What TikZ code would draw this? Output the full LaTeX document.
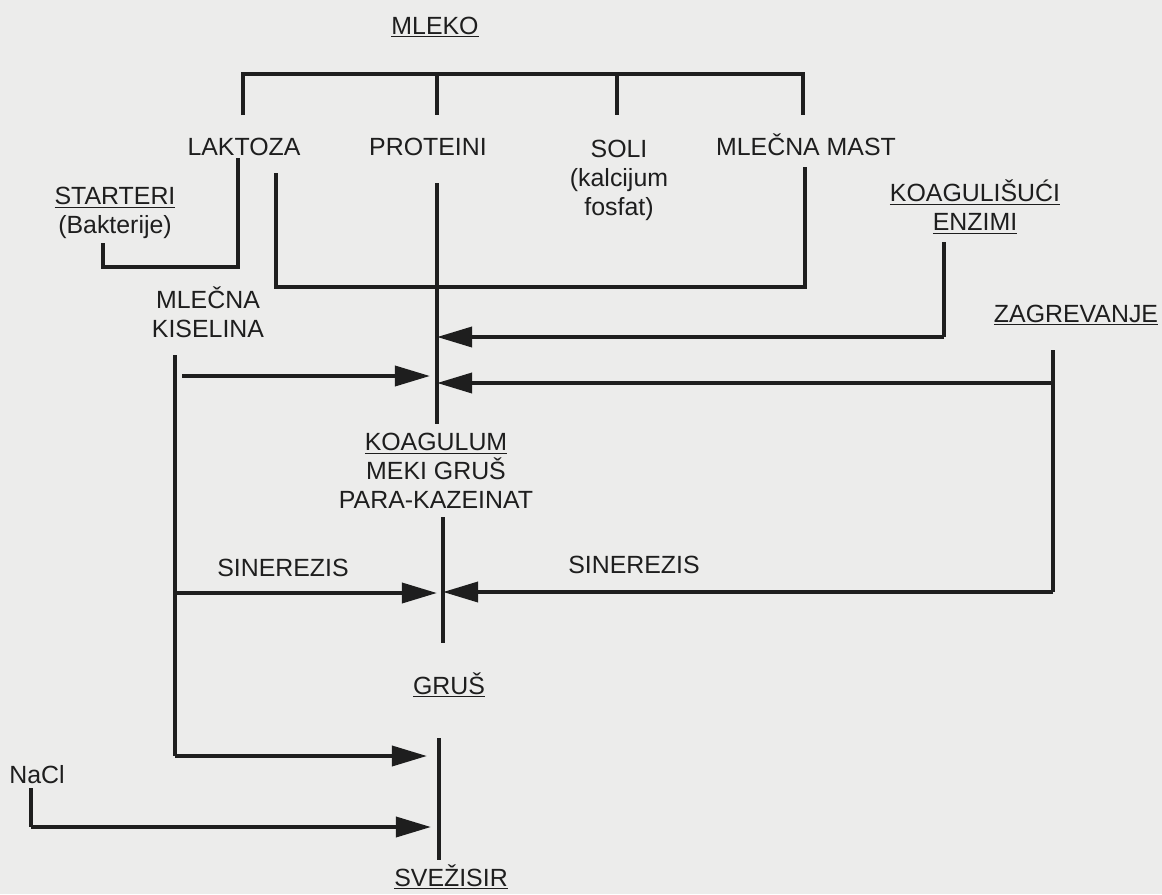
\documentclass[tikz,border=0pt]{standalone}
\usepackage{fontspec}
\setmainfont{Liberation Sans}
\usetikzlibrary{arrows.meta}
\definecolor{paper}{RGB}{236,236,235}
\definecolor{ink}{RGB}{30,30,30}
\begin{document}
\begin{tikzpicture}[x=0.025cm,y=-0.025cm,
  lbl/.style={inner sep=0pt,text=ink,align=center,font=\fontsize{17.7}{20.6}\selectfont},
  ln/.style={draw=ink,line width=2.8pt},
  arr/.style={ln,-{Triangle[length=0.88cm,width=0.5cm]}}]
\fill[paper] (0,0) rectangle (1162,894);
\useasboundingbox (0,0) rectangle (1162,894);
% labels
\node[lbl] (mleko) at (435,27) {\underline{MLEKO}};
\node[lbl] (laktoza) at (244,147) {LAKTOZA};
\node[lbl] (proteini) at (428,147) {PROTEINI};
\node[lbl] (soli) at (619,180) {SOLI\\(kalcijum\\fosfat)};
\node[lbl] (mast) at (806,145) {MLEČNA MAST};
\node[lbl] (starteri) at (115,213) {\underline{STARTERI}\\(Bakterije)};
\node[lbl] (enzimi) at (975,207) {\underline{KOAGULIŠUĆI}\\\underline{ENZIMI}};
\node[lbl] (kiselina) at (208,312) {MLEČNA\\KISELINA};
\node[lbl] (zagrevanje) at (1076,315) {\underline{ZAGREVANJE}};
\node[lbl] (koagulum) at (436,471) {\underline{KOAGULUM}\\MEKI GRUŠ\\PARA-KAZEINAT};
\node[lbl] (sin1) at (283,568) {SINEREZIS};
\node[lbl] (sin2) at (634,565) {SINEREZIS};
\node[lbl] (grus) at (449,685) {\underline{GRUŠ}};
\node[lbl] (nacl) at (37,775) {NaCl};
\node[lbl] (svezisir) at (451,877) {\underline{SVEŽISIR}};
% junction coordinates
\coordinate (tL) at (243,74); \coordinate (tR) at (803,74);
\coordinate (tP) at (437,74); \coordinate (tS) at (617,74);
\coordinate (bA) at (276,287); \coordinate (bB) at (805,287);
\coordinate (sA) at (103,267); \coordinate (sB) at (238,267);
\coordinate (eA) at (944,337); \coordinate (zA) at (1053,383); \coordinate (zB) at (1053,592);
\coordinate (kA) at (175,756); \coordinate (kB) at (175,593);
\coordinate (nA) at (31,827);
\coordinate (pEnd) at (437,424);
\coordinate (c1) at (437,337); \coordinate (c2) at (437,383); \coordinate (c3) at (430,376);
\coordinate (c4) at (437,593); \coordinate (c5) at (443,592);
\coordinate (g1) at (443,517); \coordinate (g2) at (443,643);
\coordinate (s1) at (439,738); \coordinate (s2) at (439,860);
\coordinate (s3) at (427,756); \coordinate (s4) at (431,827);
% connectors
\draw[ln] (243,115) -- (tL) -- (tR) -- (803,115);
\draw[ln] (tP) -- (437,115);
\draw[ln] (tS) -- (617,115);
\draw[ln] (103,243) -- (sA) -- (sB) -- (238,158);
\draw[ln] (276,173) -- (bA) -- (bB) -- (805,167);
\draw[ln] (437,183) -- (pEnd);
\draw[ln] (944,242) -- (eA);
\draw[arr] (eA) -- (c1);
\draw[ln] (1053,350) -- (zB);
\draw[arr] (zA) -- (c2);
\draw[arr] (zB) -- (c5);
\draw[arr] (182,376) -- (c3);
\draw[ln] (175,355) -- (kA);
\draw[arr] (kA) -- (s3);
\draw[arr] (kB) -- (c4);
\draw[ln] (g1) -- (g2);
\draw[ln] (s1) -- (s2);
\draw[ln] (31,788) -- (nA);
\draw[arr] (nA) -- (s4);
\end{tikzpicture}
\end{document}
